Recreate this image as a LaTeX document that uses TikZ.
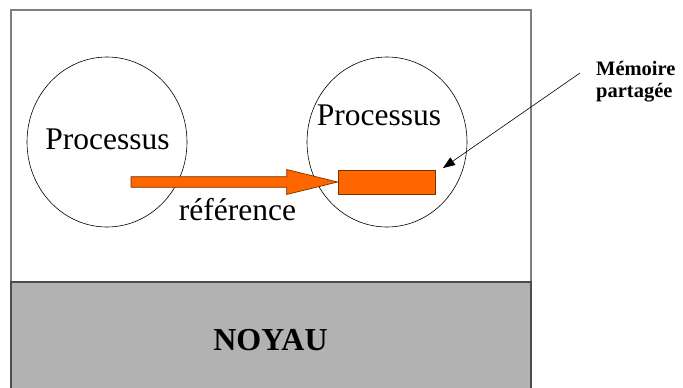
\documentclass[tikz,border=0pt]{standalone}
\usepackage{fontspec}
\setmainfont{Liberation Serif}
\usetikzlibrary{shapes.geometric,arrows.meta,calc}
\definecolor{orangefill}{HTML}{FF6600}
\definecolor{orangeedge}{HTML}{7A3300}
\definecolor{kernelgray}{HTML}{B2B2B2}
\definecolor{framegray}{HTML}{7F7F7F}
\tikzset{
  procring/.style={draw=black, line width=0.6pt, ellipse, minimum width=160pt, minimum height=170pt, inner sep=0pt},
  bigtext/.style={font=\fontsize{31.5}{36}\selectfont, inner sep=0pt, anchor=base},
  memblock/.style={draw=orangeedge, fill=orangefill, line width=0.7pt, minimum width=97pt, minimum height=24pt, inner sep=0pt},
  reffill/.style={draw=orangeedge, fill=orangefill, line width=0.7pt, line join=miter},
  pointer/.style={draw=black, line width=0.6pt, -{Triangle[length=12pt, width=9pt]}},
  notetext/.style={font=\bfseries\fontsize{20.5}{22.5}\selectfont, inner sep=0pt, align=left, anchor=base west},
}
\begin{document}
\begin{tikzpicture}[x=1pt, y=-1pt]
  \useasboundingbox (0,0) rectangle (683,388);
  % user-space frame
  \draw[framegray, line width=1.4pt, fill=white] (11,10) rectangle (531,420);
  % kernel band
  \draw[draw=black!70, line width=1.4pt, fill=kernelgray] (11,282) rectangle (531,420);
  \node[font=\bfseries\fontsize{32}{36}\selectfont, inner sep=0pt, anchor=base] (noyau) at (270.5,350) {NOYAU};

  % processes
  \node[procring] (p1) at (107,142) {};
  \node[procring] (p2) at (387,142) {};
  \node[bigtext] (t1) at (107.5,149) {Processus};
  \node[bigtext] (t2) at (379,125) {Processus};

  % shared memory block
  \node[memblock] (mem) at (386.5,182) {};

  % reference arrow from the first process to the shared block
  \coordinate (refstart) at (131,182);
  \path[reffill]
    ($(refstart)+(0,-5.3)$) -- ($(mem.west)+(-51,-5.3)$) -- ($(mem.west)+(-51,-12.5)$)
    -- (mem.west)
    -- ($(mem.west)+(-51,12.5)$) -- ($(mem.west)+(-51,5.3)$) -- ($(refstart)+(0,5.3)$) -- cycle;
  \node[bigtext] (ref) at (237.5,220) {référence};

  % label for the shared memory (base anchor sits on the last line)
  \node[notetext] (note) at (596,97.5) {Mémoire\\partagée};
  \coordinate (notefoot) at (580,73);
  \coordinate (memtip) at (443,168);
  \draw[pointer] (notefoot) -- (memtip);
\end{tikzpicture}
\end{document}
